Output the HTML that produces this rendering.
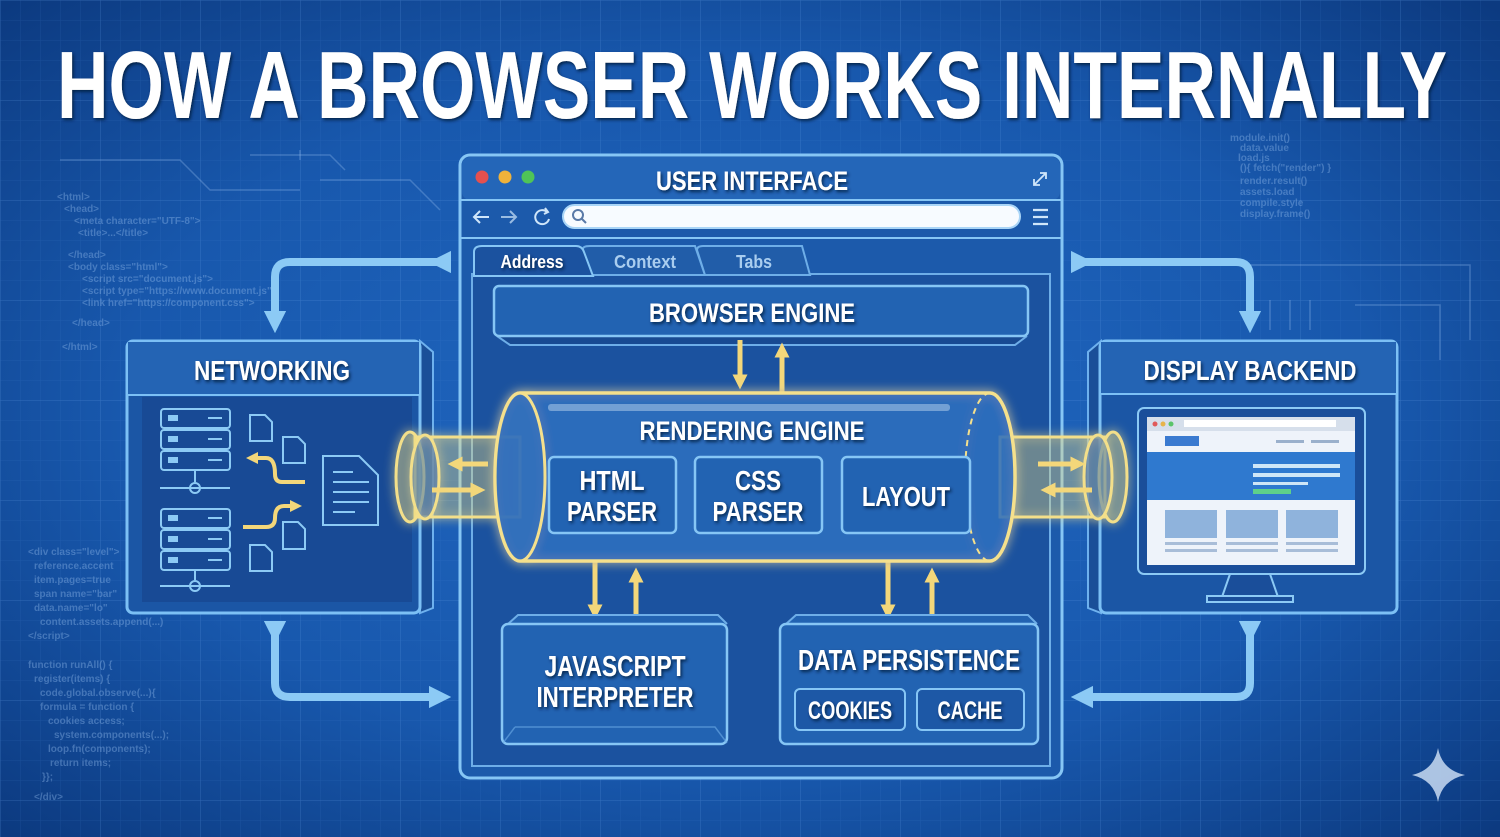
<!DOCTYPE html>
<html><head><meta charset="utf-8"><style>
html,body{margin:0;padding:0;width:1500px;height:837px;overflow:hidden;background:#124a9a}
svg{display:block}
text{font-family:"Liberation Sans",sans-serif;font-weight:bold}
.lbl{fill:#fff;filter:url(#ts)}
.code{font-family:"Liberation Mono",monospace;font-weight:normal;fill:#8fb8ea;opacity:.4;font-size:10px}
</style></head><body>
<svg width="1500" height="837" viewBox="0 0 1500 837" xmlns="http://www.w3.org/2000/svg">
<defs>
<radialGradient id="bg" cx="50%" cy="50%" r="70%">
<stop offset="0" stop-color="#2168c2"/><stop offset=".6" stop-color="#1858ad"/><stop offset="1" stop-color="#0c3a80"/>
</radialGradient>
<pattern id="g1" width="20" height="20" patternUnits="userSpaceOnUse"><path d="M20 0H0V20" fill="none" stroke="#4d8ad6" stroke-opacity=".18" stroke-width="1"/></pattern>
<pattern id="g2" width="100" height="100" patternUnits="userSpaceOnUse"><path d="M100 0H0V100" fill="none" stroke="#6aa2e6" stroke-opacity=".25" stroke-width="1"/></pattern>
<filter id="ts" x="-10%" y="-30%" width="120%" height="160%"><feDropShadow dx="1.5" dy="2" stdDeviation="1.5" flood-color="#061a40" flood-opacity=".9"/></filter>
<filter id="glow" x="-20%" y="-20%" width="140%" height="140%"><feGaussianBlur stdDeviation="5" result="b"/><feMerge><feMergeNode in="b"/><feMergeNode in="SourceGraphic"/></feMerge></filter>
<marker id="ab" viewBox="0 0 10 10" refX="5" refY="5" markerWidth="2.8" markerHeight="2.8" orient="auto"><path d="M0 0L10 5L0 10z" fill="#8ccaf5"/></marker>
<marker id="ay" viewBox="0 0 10 10" refX="5" refY="5" markerWidth="3" markerHeight="3" orient="auto"><path d="M0 0L10 5L0 10z" fill="#f3d77a"/></marker>
</defs>
<rect width="1500" height="837" fill="url(#bg)"/>
<rect width="1500" height="837" fill="url(#g1)"/>
<rect width="1500" height="837" fill="url(#g2)"/>

<g class="code">
<text x="57" y="200">&lt;html&gt;</text><text x="64" y="212">&lt;head&gt;</text><text x="74" y="224">&lt;meta character="UTF-8"&gt;</text>
<text x="78" y="236">&lt;title&gt;...&lt;/title&gt;</text><text x="68" y="258">&lt;/head&gt;</text><text x="68" y="270">&lt;body class="html"&gt;</text>
<text x="82" y="282">&lt;script src="document.js"&gt;</text><text x="82" y="294">&lt;script type="https://www.document.js"&gt;</text>
<text x="82" y="306">&lt;link href="https://component.css"&gt;</text><text x="72" y="326">&lt;/head&gt;</text><text x="62" y="350">&lt;/html&gt;</text>
<text x="28" y="555">&lt;div class="level"&gt;</text><text x="34" y="569">reference.accent</text><text x="34" y="583">item.pages=true</text>
<text x="34" y="597">span name="bar"</text><text x="34" y="611">data.name="lo"</text><text x="40" y="625">content.assets.append(...)</text><text x="28" y="639">&lt;/script&gt;</text>
<text x="28" y="668">function runAll() {</text><text x="34" y="682">register(items) {</text><text x="40" y="696">code.global.observe(...){</text>
<text x="40" y="710">formula = function {</text><text x="48" y="724">cookies access;</text><text x="54" y="738">system.components(...);</text>
<text x="48" y="752">loop.fn(components);</text><text x="50" y="766">return items;</text><text x="42" y="780">}};</text><text x="34" y="800">&lt;/div&gt;</text>
<text x="1230" y="141">module.init()</text><text x="1240" y="151">data.value</text><text x="1238" y="161">load.js</text>
<text x="1240" y="171">(){ fetch("render") }</text><text x="1240" y="184">render.result()</text><text x="1240" y="195">assets.load</text>
<text x="1240" y="206">compile.style</text><text x="1240" y="217">display.frame()</text>
</g>
<g fill="none" stroke="#8fb8ea" stroke-opacity=".35" stroke-width="1.5">
<path d="M60 160H180L210 190H300"/><path d="M250 155H330L345 170"/><path d="M320 180H410L440 210"/><path d="M300 160V150"/>
<path d="M1245 265H1470V340"/><path d="M1270 300V330M1290 300V330M1310 300V330"/><path d="M1355 305H1440V360"/>
</g>

<text x="752" y="118" text-anchor="middle" font-size="96" textLength="1390" lengthAdjust="spacingAndGlyphs" class="lbl">HOW A BROWSER WORKS INTERNALLY</text>

<g fill="none" stroke="#8ccaf5" stroke-width="8">
<path d="M440 262H290Q275 262 275 277V322" marker-end="url(#ab)" marker-start="url(#ab)"/>
<path d="M275 632V683Q275 697 290 697H440" marker-end="url(#ab)" marker-start="url(#ab)"/>
<path d="M1082 262H1236Q1250 262 1250 277V322" marker-end="url(#ab)" marker-start="url(#ab)"/>
<path d="M1250 632V683Q1250 697 1236 697H1082" marker-end="url(#ab)" marker-start="url(#ab)"/>
</g>

<!-- Networking -->
<g>
<path d="M420 341L433 352V608L420 613Z" fill="#1a4f98" stroke="#6eb1ee" stroke-width="2"/>
<rect x="127" y="341" width="293" height="272" rx="6" fill="#1b56a5" stroke="#7cc0f5" stroke-width="3"/>
<rect x="128" y="342" width="291" height="53" fill="#2464b4"/>
<line x1="128" y1="395" x2="419" y2="395" stroke="#7cc0f5" stroke-width="2"/>
<rect x="142" y="397" width="270" height="205" fill="#17468e" opacity=".7"/>
<text x="272" y="380" text-anchor="middle" font-size="28" textLength="156" lengthAdjust="spacingAndGlyphs" class="lbl">NETWORKING</text>
<g fill="none" stroke="#8ccaf5" stroke-width="2">
<rect x="161" y="409" width="69" height="19" rx="3"/><rect x="161" y="430" width="69" height="19" rx="3"/><rect x="161" y="451" width="69" height="19" rx="3"/>
<path d="M160 488H230M195 470V482"/><circle cx="195" cy="488" r="5"/>
<rect x="161" y="509" width="69" height="19" rx="3"/><rect x="161" y="530" width="69" height="19" rx="3"/><rect x="161" y="551" width="69" height="19" rx="3"/>
<path d="M160 586H230M195 570V580"/><circle cx="195" cy="586" r="5"/>
<g fill="#8ccaf5" stroke="none"><rect x="168" y="415" width="10" height="6"/><rect x="168" y="436" width="10" height="6"/><rect x="168" y="457" width="10" height="6"/><rect x="168" y="515" width="10" height="6"/><rect x="168" y="536" width="10" height="6"/><rect x="168" y="557" width="10" height="6"/>
<rect x="208" y="417" width="14" height="2"/><rect x="208" y="438" width="14" height="2"/><rect x="208" y="459" width="14" height="2"/><rect x="208" y="517" width="14" height="2"/><rect x="208" y="538" width="14" height="2"/><rect x="208" y="559" width="14" height="2"/></g>
<path d="M250 415h15l7 7v19h-22z"/><path d="M283 437h15l7 7v19h-22z"/><path d="M283 522h15l7 7v20h-22z"/><path d="M250 545h15l7 7v19h-22z"/>
<path d="M323 456h36l19 19v50h-55z"/><path d="M333 472h20M333 482h36M333 492h36M333 502h36M333 512h22"/>
</g>
<g fill="none" stroke="#f3d77a" stroke-width="4">
<path d="M305 482H282Q275 482 275 474Q275 458 266 458H252" marker-end="url(#ay)"/>
<path d="M243 527H266Q275 527 275 518Q275 506 284 506H296" marker-end="url(#ay)"/>
</g>
</g>

<!-- Display backend -->
<g>
<path d="M1101 341L1088 352V608L1101 613Z" fill="#1a4f98" stroke="#6eb1ee" stroke-width="2"/>
<rect x="1100" y="341" width="297" height="272" rx="6" fill="#1b56a5" stroke="#7cc0f5" stroke-width="3"/>
<rect x="1101" y="342" width="295" height="52" fill="#2464b4"/>
<line x1="1101" y1="394" x2="1396" y2="394" stroke="#7cc0f5" stroke-width="2"/>
<text x="1250" y="380" text-anchor="middle" font-size="28" textLength="213" lengthAdjust="spacingAndGlyphs" class="lbl">DISPLAY BACKEND</text>
<rect x="1138" y="408" width="227" height="166" rx="6" fill="#1a4e9a" stroke="#8ccaf5" stroke-width="2"/>
<rect x="1147" y="417" width="208" height="148" fill="#eef3fa"/>
<rect x="1147" y="417" width="208" height="14" fill="#d6dfeb"/>
<circle cx="1155" cy="424" r="2.5" fill="#e05a5a"/><circle cx="1163" cy="424" r="2.5" fill="#e7b44a"/><circle cx="1171" cy="424" r="2.5" fill="#5ac46a"/>
<rect x="1184" y="420" width="152" height="7" fill="#fff"/>
<rect x="1165" y="436" width="34" height="10" fill="#3a7ad0"/>
<rect x="1276" y="440" width="28" height="3" fill="#9ab0cc"/><rect x="1311" y="440" width="28" height="3" fill="#9ab0cc"/>
<rect x="1147" y="452" width="208" height="48" fill="#2f79cf"/>
<rect x="1253" y="464" width="87" height="4" fill="#cfe6f7"/><rect x="1253" y="473" width="87" height="4" fill="#cfe6f7"/><rect x="1253" y="482" width="55" height="3" fill="#cfe6f7"/>
<rect x="1253" y="489" width="38" height="5" fill="#5ed08a"/>
<rect x="1165" y="510" width="52" height="28" fill="#8fb3dc"/><rect x="1226" y="510" width="52" height="28" fill="#8fb3dc"/><rect x="1286" y="510" width="52" height="28" fill="#8fb3dc"/>
<g fill="#a8bdd8"><rect x="1165" y="542" width="52" height="3"/><rect x="1226" y="542" width="52" height="3"/><rect x="1286" y="542" width="52" height="3"/>
<rect x="1165" y="549" width="52" height="3"/><rect x="1226" y="549" width="52" height="3"/><rect x="1286" y="549" width="52" height="3"/></g>
<path d="M1230 574H1270L1278 597H1222Z" fill="#1a4e9a" stroke="#8ccaf5" stroke-width="2"/>
<rect x="1207" y="596" width="86" height="6" fill="#1a4e9a" stroke="#8ccaf5" stroke-width="2"/>
</g>

<!-- Main browser window -->
<g>
<rect x="460" y="155" width="602" height="623" rx="10" fill="#1c5aab" stroke="#86c6f5" stroke-width="3"/>
<rect x="462" y="157" width="598" height="43" rx="8" fill="#2466b8"/>
<line x1="461" y1="200" x2="1061" y2="200" stroke="#86c6f5" stroke-width="2"/>
<line x1="461" y1="238" x2="1061" y2="238" stroke="#86c6f5" stroke-width="2"/>
<circle cx="482" cy="177" r="6.5" fill="#e5504f"/><circle cx="505" cy="177" r="6.5" fill="#efb23b"/><circle cx="528" cy="177" r="6.5" fill="#4fc457"/>
<text x="752" y="190" text-anchor="middle" font-size="27" textLength="192" lengthAdjust="spacingAndGlyphs" class="lbl">USER INTERFACE</text>
<path d="M1034 185l12-12M1040 173h6v6M1034 179v6h6" fill="none" stroke="#cfe6fa" stroke-width="1.8"/>
<g fill="none" stroke="#cfe6fa" stroke-width="2"><path d="M475 217h14M480 211l-6 6 6 6"/><path d="M501 217h14M510 211l6 6-6 6" opacity=".7"/><path d="M547 212a7 7 0 1 0 2 7M545 208l3 4-4 2"/></g>
<rect x="563" y="205" width="457" height="23" rx="11.5" fill="#f7fbff" stroke="#a9d5f7" stroke-width="2"/>
<circle cx="578" cy="215" r="5" fill="none" stroke="#5a7aa8" stroke-width="2"/><path d="M582 219l4 4" stroke="#5a7aa8" stroke-width="2"/>
<path d="M1033 210h15M1033 217h15M1033 224h15" stroke="#cfe6fa" stroke-width="2.2"/>
<rect x="472" y="274" width="578" height="492" fill="#1b529f" stroke="#6eaee8" stroke-width="2"/>
<path d="M592 275L583 250Q582 246 590 246H695L705 275Z" fill="#215da9" stroke="#6eaee8" stroke-width="2"/>
<path d="M705 275L697 250Q697 246 703 246H802L810 275Z" fill="#215da9" stroke="#6eaee8" stroke-width="2"/>
<path d="M474 276V252Q474 246 482 246H576Q582 246 584 252L593 276Z" fill="#1b529f" stroke="#86c6f5" stroke-width="2"/>
<text x="532" y="268" text-anchor="middle" font-size="18" textLength="63" lengthAdjust="spacingAndGlyphs" fill="#fff" filter="url(#ts)">Address</text>
<text x="645" y="268" text-anchor="middle" font-size="18" textLength="62" lengthAdjust="spacingAndGlyphs" fill="#a9cdef">Context</text>
<text x="754" y="268" text-anchor="middle" font-size="18" textLength="36" lengthAdjust="spacingAndGlyphs" fill="#a9cdef">Tabs</text>
<path d="M497 336L510 345H1015L1027 336" fill="#184a92" stroke="#6eaee8" stroke-width="2"/>
<rect x="494" y="286" width="534" height="50" rx="5" fill="#2263b2" stroke="#86c6f5" stroke-width="2.5"/>
<text x="752" y="322" text-anchor="middle" font-size="27" textLength="206" lengthAdjust="spacingAndGlyphs" class="lbl">BROWSER ENGINE</text>
</g>

<g fill="none" stroke="#f3d77a" stroke-width="5">
<path d="M740 340V382" marker-end="url(#ay)"/><path d="M782 392V350" marker-end="url(#ay)"/>
<path d="M595 562V612" marker-end="url(#ay)"/><path d="M636 622V575" marker-end="url(#ay)"/>
<path d="M888 562V612" marker-end="url(#ay)"/><path d="M932 622V575" marker-end="url(#ay)"/>
</g>

<g filter="url(#glow)">
<rect x="415" y="437" width="105" height="80" fill="#e8d67a" fill-opacity=".22" stroke="#f3df8a" stroke-width="3"/>
<ellipse cx="410" cy="477" rx="14" ry="45" fill="#e8d67a" fill-opacity=".2" stroke="#f3df8a" stroke-width="3"/>
<ellipse cx="425" cy="477" rx="14" ry="42" fill="#3a6fb0" fill-opacity=".5" stroke="#f3df8a" stroke-width="3"/>
<rect x="1000" y="437" width="105" height="80" fill="#e8d67a" fill-opacity=".22" stroke="#f3df8a" stroke-width="3"/>
<ellipse cx="1113" cy="477" rx="14" ry="45" fill="#e8d67a" fill-opacity=".2" stroke="#f3df8a" stroke-width="3"/>
<ellipse cx="1098" cy="477" rx="14" ry="42" fill="#3a6fb0" fill-opacity=".5" stroke="#f3df8a" stroke-width="3"/>
<path d="M520 393H990A25 84 0 0 1 990 561H520A25 84 0 0 1 520 393Z" fill="#2a6cbb" fill-opacity=".85" stroke="#f5e08c" stroke-width="3.5"/>
<ellipse cx="520" cy="477" rx="25" ry="84" fill="#3672bd" fill-opacity=".6" stroke="#f5e08c" stroke-width="3"/>
<path d="M990 393A25 84 0 0 0 990 561" fill="none" stroke="#f5e08c" stroke-width="2" stroke-dasharray="6 5"/>
</g>
<rect x="548" y="404" width="402" height="7" rx="3" fill="#bcd3ee" fill-opacity=".5"/>
<g fill="none" stroke="#f3d77a" stroke-width="5">
<path d="M488 464H455" marker-end="url(#ay)"/><path d="M432 490H478" marker-end="url(#ay)"/>
<path d="M1038 464H1078" marker-end="url(#ay)"/><path d="M1092 490H1048" marker-end="url(#ay)"/>
</g>
<text x="752" y="440" text-anchor="middle" font-size="27" textLength="225" lengthAdjust="spacingAndGlyphs" class="lbl">RENDERING ENGINE</text>
<g fill="#2263b2" stroke="#86c6f5" stroke-width="2.5">
<rect x="549" y="457" width="127" height="76" rx="5"/><rect x="695" y="457" width="127" height="76" rx="5"/><rect x="842" y="457" width="128" height="76" rx="5"/>
</g>
<g font-size="28" text-anchor="middle" class="lbl">
<text x="612" y="490" textLength="65" lengthAdjust="spacingAndGlyphs">HTML</text><text x="612" y="521" textLength="90" lengthAdjust="spacingAndGlyphs">PARSER</text>
<text x="758" y="490" textLength="46" lengthAdjust="spacingAndGlyphs">CSS</text><text x="758" y="521" textLength="91" lengthAdjust="spacingAndGlyphs">PARSER</text>
<text x="906" y="506" textLength="88" lengthAdjust="spacingAndGlyphs">LAYOUT</text>
</g>

<path d="M508 624L518 615H718L727 624" fill="#2263b2" stroke="#6eaee8" stroke-width="2"/>
<rect x="502" y="624" width="225" height="120" rx="6" fill="#2263b2" stroke="#86c6f5" stroke-width="2.5"/>
<path d="M515 727H715L727 743M515 727L503 743" fill="none" stroke="#6eaee8" stroke-opacity=".6" stroke-width="1.5"/>
<text x="615" y="676" text-anchor="middle" font-size="29" textLength="141" lengthAdjust="spacingAndGlyphs" class="lbl">JAVASCRIPT</text>
<text x="615" y="707" text-anchor="middle" font-size="29" textLength="157" lengthAdjust="spacingAndGlyphs" class="lbl">INTERPRETER</text>
<path d="M786 624L796 615H1028L1037 624" fill="#2263b2" stroke="#6eaee8" stroke-width="2"/>
<rect x="780" y="624" width="258" height="120" rx="6" fill="#2263b2" stroke="#86c6f5" stroke-width="2.5"/>
<text x="909" y="670" text-anchor="middle" font-size="29" textLength="222" lengthAdjust="spacingAndGlyphs" class="lbl">DATA PERSISTENCE</text>
<rect x="795" y="689" width="110" height="41" rx="5" fill="#1d58a6" stroke="#86c6f5" stroke-width="2"/>
<rect x="917" y="689" width="107" height="41" rx="5" fill="#1d58a6" stroke="#86c6f5" stroke-width="2"/>
<text x="850" y="719" text-anchor="middle" font-size="25" textLength="84" lengthAdjust="spacingAndGlyphs" class="lbl">COOKIES</text>
<text x="970" y="719" text-anchor="middle" font-size="25" textLength="65" lengthAdjust="spacingAndGlyphs" class="lbl">CACHE</text>

<path d="M1438 748Q1442 770 1465 775Q1442 780 1438 802Q1434 780 1412 775Q1434 770 1438 748Z" fill="#c8daf2" opacity=".85"/>
</svg>
</body></html>
